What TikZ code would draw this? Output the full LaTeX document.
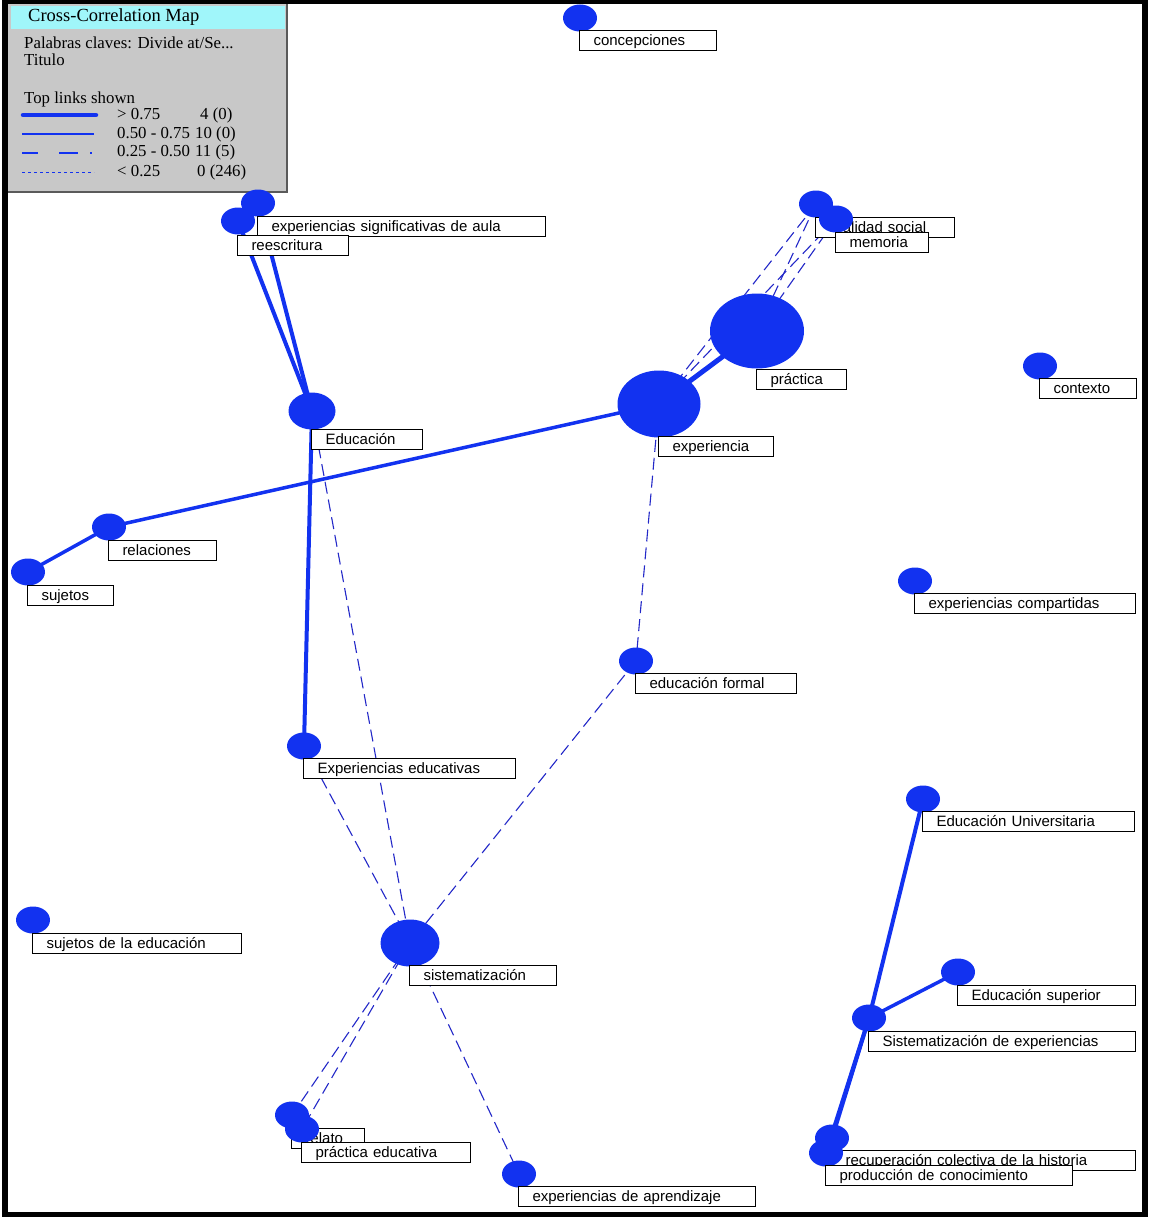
\documentclass[tikz,border=0pt]{standalone}
\usepackage{fontspec}
\setmainfont{Liberation Sans}
\newfontfamily\legfont{Liberation Serif}
\usetikzlibrary{shapes.geometric}
\pgfdeclarelayer{bglayer}
\pgfdeclarelayer{edgelayer}
\pgfsetlayers{bglayer,edgelayer,main}
\definecolor{nodeblue}{RGB}{18,50,240}
\definecolor{dashblue}{RGB}{35,40,200}
\definecolor{leggray}{RGB}{200,200,200}
\definecolor{legcyan}{RGB}{160,246,250}
\definecolor{legedge}{RGB}{90,90,90}
\tikzset{
  dotS/.style={ellipse, fill=nodeblue, draw=none, minimum width=34pt, minimum height=27pt, inner sep=0pt},
  lab/.style={draw=black, line width=1pt, fill=white, anchor=north west, inner xsep=14pt, inner ysep=0pt,
     minimum height=20pt, align=left, font=\fontsize{15}{15}\selectfont, text height=12pt, text depth=2pt},
  strong/.style={draw=nodeblue, line width=4pt},
  mid/.style={draw=nodeblue, line width=3.5pt},
  weak/.style={draw=dashblue, line width=1.1pt, dash pattern=on 12pt off 6pt},
  legtext/.style={anchor=base west, inner sep=0pt, font=\legfont\fontsize{16.8}{16.8}\selectfont},
}
\begin{document}
\begin{tikzpicture}[x=1pt,y=-1pt]
\useasboundingbox (0,0) rectangle (1148,1220);
\begin{pgfonlayer}{bglayer}
\fill[white] (0,0) rectangle (1148,1220);
\fill[black] (2,0) rectangle (1148,1217);
\fill[white] (8,4) rectangle (1142,1212);
\end{pgfonlayer}

% legend
\fill[leggray] (8,4) rectangle (288,193);
\draw[legedge, line width=2pt] (287,4) -- (287,192) -- (8,192);
\fill[legcyan] (11,6) rectangle (285,29);
\node[legtext, font=\legfont\fontsize{18.5}{18.5}\selectfont] (lgtitle) at (28,22) {Cross-Correlation Map};
\node[legtext] (lgpal) at (24,49) {Palabras claves: Divide at/Se...};
\node[legtext] (lgtit) at (24,66) {Titulo};
\node[legtext] (lgtop) at (24,104) {Top links shown};
\node[legtext] (lgr1) at (117,120) {> 0.75};
\node[legtext] (lgr2) at (117,139) {0.50 - 0.75};
\node[legtext] (lgr3) at (117,157) {0.25 - 0.50};
\node[legtext] (lgr4) at (117,176) {< 0.25};
\node[legtext] (lgc1) at (200,120) {4 (0)};
\node[legtext] (lgc2) at (195,139) {10 (0)};
\node[legtext] (lgc3) at (195,157) {11 (5)};
\node[legtext] (lgc4) at (197,176) {0 (246)};
\draw[nodeblue, line width=4.5pt, line cap=round] (23,115) -- (96,115);
\draw[nodeblue, line width=1.3pt] (22,134) -- (94,134);
\draw[nodeblue, line width=1.3pt] (22,153) -- (38,153) (59,153) -- (78,153) (90,153) -- (92,153);
\draw[nodeblue, line width=1pt, dash pattern=on 3pt off 3pt] (22,172) -- (94,172);

% nodes: circle then label
\node[dotS] (concep) at (580,18) {};
\node[lab, text width=109pt] (l-concep) at (579,30) {concepciones};
\node[dotS] (esa) at (258,203) {};
\node[lab, text width=260pt] (l-esa) at (257,216) {experiencias significativas de aula};
\node[dotS] (reesc) at (238,221) {};
\node[lab, text width=83pt] (l-reesc) at (237,235) {reescritura};
\node[dotS] (realidad) at (816,204) {};
\node[lab, text width=111pt] (l-realidad) at (815,217) {realidad social};
\node[dotS] (memoria) at (836,219) {};
\node[lab, text width=65pt] (l-memoria) at (835,232) {memoria};
\node[dotS, minimum width=94pt, minimum height=75pt] (practica) at (757,331) {};
\node[lab, text width=62pt] (l-practica) at (756,369) {práctica};
\node[dotS] (contexto) at (1040,366) {};
\node[lab, text width=69pt] (l-contexto) at (1039,378) {contexto};
\node[dotS, minimum width=47pt, minimum height=37pt] (educ) at (312,411) {};
\node[lab, text width=83pt] (l-educ) at (311,429) {Educación};
\node[dotS, minimum width=83pt, minimum height=67pt] (exper) at (659,404) {};
\node[lab, text width=87pt] (l-exper) at (658,436) {experiencia};
\node[dotS] (relac) at (109,527) {};
\node[lab, text width=80pt] (l-relac) at (108,540) {relaciones};
\node[dotS] (sujetos) at (28,572) {};
\node[lab, text width=58pt] (l-sujetos) at (27,585) {sujetos};
\node[dotS] (expcomp) at (915,581) {};
\node[lab, text width=193pt] (l-expcomp) at (914,593) {experiencias compartidas};
\node[dotS] (educform) at (636,661) {};
\node[lab, text width=133pt] (l-educform) at (635,673) {educación formal};
\node[dotS] (expeduc) at (304,746) {};
\node[lab, text width=184pt] (l-expeduc) at (303,758) {Experiencias educativas};
\node[dotS] (eduniv) at (923,799) {};
\node[lab, text width=184pt] (l-eduniv) at (922,811) {Educación Universitaria};
\node[dotS] (sujeduc) at (33,920) {};
\node[lab, text width=181pt] (l-sujeduc) at (32,933) {sujetos de la educación};
\node[dotS, minimum width=59pt, minimum height=47pt] (sistem) at (410,943) {};
\node[lab, text width=119pt] (l-sistem) at (409,965) {sistematización};
\node[dotS] (edsup) at (958,972) {};
\node[lab, text width=150pt] (l-edsup) at (957,985) {Educación superior};
\node[dotS] (sde) at (869,1018) {};
\node[lab, text width=239pt] (l-sde) at (868,1031) {Sistematización de experiencias};
\node[dotS] (relato) at (292,1115) {};
\node[lab, text width=45pt] (l-relato) at (291,1128) {relato};
\node[dotS] (prared) at (302,1129) {};
\node[lab, text width=141pt] (l-prared) at (301,1142) {práctica educativa};
\node[dotS] (expapr) at (519,1174) {};
\node[lab, text width=209pt] (l-expapr) at (518,1186) {experiencias de aprendizaje};
\node[dotS] (recup) at (832,1138) {};
\node[lab, text width=276pt] (l-recup) at (831,1150) {recuperación colectiva de la historia};
\node[dotS] (produc) at (826,1153) {};
\node[lab, text width=219pt] (l-produc) at (825,1165) {producción de conocimiento};

% edges
\begin{pgfonlayer}{edgelayer}
\draw[weak] (realidad.center) -- (practica.center);
\draw[weak] (realidad.center) -- (exper.center);
\draw[weak] (memoria.center) -- (practica.center);
\draw[weak] (memoria.center) -- (exper.center);
\draw[weak] (exper.center) -- (educform.center);
\draw[weak] (educform.center) -- (sistem.center);
\draw[weak] (educ.center) -- (sistem.center);
\draw[weak] (expeduc.center) -- (sistem.center);
\draw[weak] (sistem.center) -- (relato.center);
\draw[weak] (sistem.center) -- (prared.center);
\draw[weak] (sistem.center) -- (expapr.center);
\draw[strong] (reesc.center) -- (educ.center);
\draw[strong] (esa.center) -- (educ.center);
\draw[strong] (educ.center) -- (expeduc.center);
\draw[strong, line width=5pt] (practica.center) -- (exper.center);
\draw[mid] (exper.center) -- (relac.center);
\draw[mid] (relac.center) -- (sujetos.center);
\draw[strong] (sde.center) -- (eduniv.center);
\draw[mid] (sde.center) -- (edsup.center);
\draw[strong] (sde.center) -- (recup.center);
\draw[strong] (sde.center) -- (produc.center);
\end{pgfonlayer}
\end{tikzpicture}
\end{document}
